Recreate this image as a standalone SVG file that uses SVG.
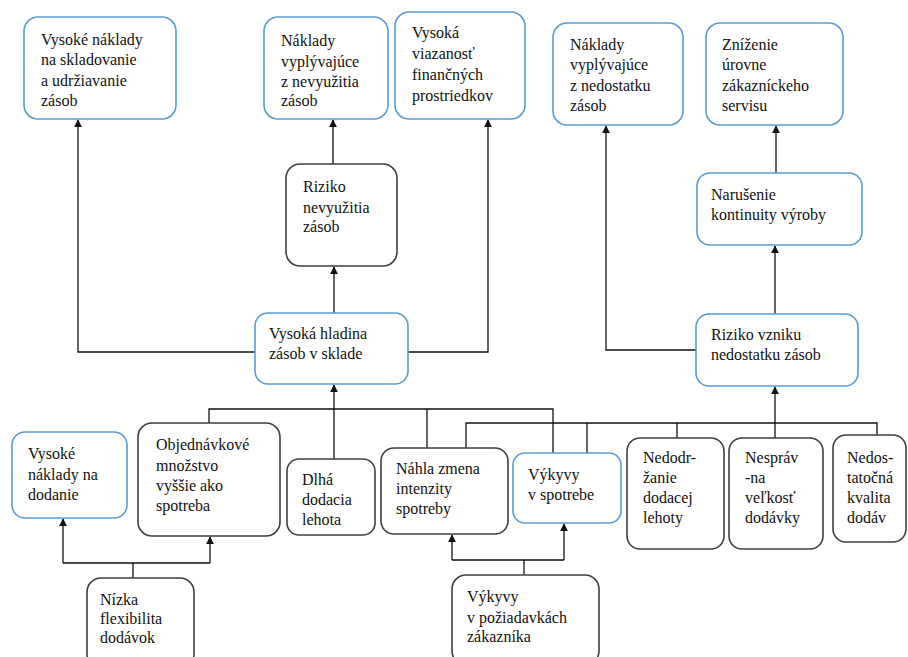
<svg xmlns="http://www.w3.org/2000/svg" width="908" height="657" viewBox="0 0 908 657" font-family="Liberation Serif, Times New Roman, DejaVu Serif, serif" font-size="16">
<defs>
<style>
.b{fill:#fff;stroke:#5B9BD5;stroke-width:1.6}
.k{fill:#fff;stroke:#3f3f3f;stroke-width:1.6}
text{fill:#111}
.c{fill:none;stroke:#111;stroke-width:1.3}
</style>
<marker id="ar" viewBox="0 0 10 10" refX="9" refY="5" markerWidth="8" markerHeight="8" orient="auto" markerUnits="userSpaceOnUse">
<path d="M0,0 L10,5 L0,10 z" fill="#111"/>
</marker>
</defs>
<rect width="908" height="657" fill="#fff"/>
<g id="connectors">
<path class="c" d="M255,352 H78 V120" marker-end="url(#ar)"/>
<path class="c" d="M408,352 H488 V120" marker-end="url(#ar)"/>
<path class="c" d="M334,313 V267" marker-end="url(#ar)"/>
<path class="c" d="M333,164 V120" marker-end="url(#ar)"/>
<path class="c" d="M334,459 V385" marker-end="url(#ar)"/>
<path class="c" d="M209,423 V409 H553 V453"/>
<path class="c" d="M427,409 V448"/>
<path class="c" d="M466,448 V423 H877 V435"/>
<path class="c" d="M587,423 V453"/>
<path class="c" d="M677,423 V438"/>
<path class="c" d="M775,438 V387" marker-end="url(#ar)"/>
<path class="c" d="M696,350 H606 V126" marker-end="url(#ar)"/>
<path class="c" d="M775,314 V246" marker-end="url(#ar)"/>
<path class="c" d="M776,173 V126" marker-end="url(#ar)"/>
<path class="c" d="M133,578 V563"/>
<path class="c" d="M63,563 H210"/>
<path class="c" d="M63,563 V519" marker-end="url(#ar)"/>
<path class="c" d="M210,563 V537" marker-end="url(#ar)"/>
<path class="c" d="M524,575 V560"/>
<path class="c" d="M452,560 H564"/>
<path class="c" d="M452,560 V535" marker-end="url(#ar)"/>
<path class="c" d="M564,560 V524" marker-end="url(#ar)"/>
</g>
<g id="n1"><rect class="b" x="24" y="17" width="152" height="102" rx="14"/>
<text x="41" y="45">Vysoké náklady</text><text x="41" y="65">na skladovanie</text><text x="41" y="86">a udržiavanie</text><text x="41" y="106">zásob</text></g>
<g id="n2"><rect class="b" x="264" y="17" width="124" height="102" rx="14"/>
<text x="281" y="46">Náklady</text><text x="281" y="67">vyplývajúce</text><text x="281" y="87">z nevyužitia</text><text x="281" y="106">zásob</text></g>
<g id="n3"><rect class="b" x="395" y="12" width="130" height="107" rx="14"/>
<text x="412" y="38">Vysoká</text><text x="412" y="59">viazanosť</text><text x="412" y="80">finančných</text><text x="412" y="101">prostriedkov</text></g>
<g id="n4"><rect class="k" x="286" y="164" width="111" height="102" rx="14"/>
<text x="303" y="192">Riziko</text><text x="303" y="213">nevyužitia</text><text x="303" y="232">zásob</text></g>
<g id="n5"><rect class="b" x="255" y="313" width="153" height="71" rx="13"/>
<text x="269" y="339">Vysoká hladina</text><text x="269" y="359">zásob v sklade</text></g>
<g id="n6"><rect class="b" x="553" y="23" width="130" height="102" rx="14"/>
<text x="570" y="50">Náklady</text><text x="570" y="70">vyplývajúce</text><text x="570" y="91">z nedostatku</text><text x="570" y="111">zásob</text></g>
<g id="n7"><rect class="b" x="706" y="23" width="137" height="102" rx="14"/>
<text x="722" y="50">Zníženie</text><text x="722" y="70">úrovne</text><text x="722" y="91">zákazníckeho</text><text x="722" y="111">servisu</text></g>
<g id="n8"><rect class="b" x="697" y="173" width="165" height="72" rx="13"/>
<text x="711" y="200">Narušenie</text><text x="711" y="220">kontinuity výroby</text></g>
<g id="n9"><rect class="b" x="696" y="314" width="162" height="72" rx="13"/>
<text x="711" y="340">Riziko vzniku</text><text x="711" y="360">nedostatku  zásob</text></g>
<g id="n10"><rect class="b" x="12" y="432" width="115" height="86" rx="13"/>
<text x="28" y="459">Vysoké</text><text x="28" y="480">náklady na</text><text x="28" y="500">dodanie</text></g>
<g id="n11"><rect class="k" x="138" y="423" width="142" height="113" rx="14"/>
<text x="156" y="450">Objednávkové</text><text x="156" y="471">množstvo</text><text x="156" y="491">vyššie ako</text><text x="156" y="511">spotreba</text></g>
<g id="n12"><rect class="k" x="287" y="459" width="88" height="76" rx="12"/>
<text x="302" y="485">Dlhá</text><text x="302" y="505">dodacia</text><text x="302" y="525">lehota</text></g>
<g id="n13"><rect class="k" x="87" y="578" width="107" height="90" rx="14"/>
<text x="100" y="605">Nízka</text><text x="100" y="624">flexibilita</text><text x="100" y="643">dodávok</text></g>
<g id="n14"><rect class="k" x="381" y="448" width="127" height="86" rx="13"/>
<text x="396" y="474">Náhla zmena</text><text x="396" y="494">intenzity</text><text x="396" y="514">spotreby</text></g>
<g id="n15"><rect class="b" x="513" y="453" width="108" height="70" rx="12"/>
<text x="528" y="480">Výkyvy</text><text x="528" y="500">v spotrebe</text></g>
<g id="n16"><rect class="k" x="452" y="575" width="147" height="90" rx="14"/>
<text x="467" y="602">Výkyvy</text><text x="467" y="623">v požiadavkách</text><text x="467" y="642">zákazníka</text></g>
<g id="n17"><rect class="k" x="627" y="438" width="97" height="111" rx="13"/>
<text x="643" y="463">Nedodr-</text><text x="643" y="483">žanie</text><text x="643" y="503">dodacej</text><text x="643" y="523">lehoty</text></g>
<g id="n18"><rect class="k" x="729" y="438" width="94" height="111" rx="13"/>
<text x="745" y="463">Nespráv</text><text x="745" y="483">-na</text><text x="745" y="503">veľkosť</text><text x="745" y="523">dodávky</text></g>
<g id="n19"><rect class="k" x="833" y="435" width="73" height="107" rx="13"/>
<text x="847" y="463">Nedos-</text><text x="847" y="483">tatočná</text><text x="847" y="503">kvalita</text><text x="847" y="523">dodáv</text></g>
</svg>
